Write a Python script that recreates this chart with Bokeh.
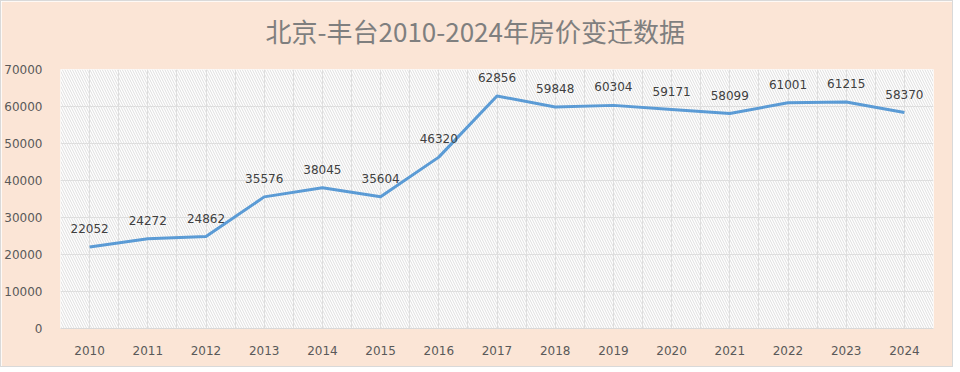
import numpy as np
from bokeh.plotting import figure
from bokeh.models import ColumnDataSource, FixedTicker, BoxAnnotation, LabelSet, Title, Range1d, BasicTickFormatter
from bokeh.core.properties import value
from bokeh.embed import file_html
from bokeh.resources import INLINE

years = [2010, 2011, 2012, 2013, 2014, 2015, 2016, 2017, 2018, 2019, 2020, 2021, 2022, 2023, 2024]
prices = [22052, 24272, 24862, 35576, 38045, 35604, 46320, 62856, 59848, 60304, 59171, 58099, 61001, 61215, 58370]
y_ticks = [0, 10000, 20000, 30000, 40000, 50000, 60000, 70000]
title_text = "北京-丰台2010-2024年房价变迁数据"

peach = "#FBE5D6"

p = figure(width=953, height=367, output_backend="svg", toolbar_location=None,
           x_range=Range1d(years[0] - 0.5, years[-1] + 0.5), y_range=Range1d(0, y_ticks[-1]),
           min_border_left=58, min_border_right=21, min_border_top=68, min_border_bottom=40)
p.title = None
p.border_fill_color = peach
p.background_fill_color = "white"
p.outline_line_color = None

hatch = BoxAnnotation(fill_color="white", fill_alpha=1.0, line_color=None,
                      hatch_pattern="\\", hatch_color="#d6d6d6", hatch_scale=5,
                      hatch_weight=0.8, level="image")
p.add_layout(hatch)

src = ColumnDataSource(dict(x=years, y=prices, label=[str(v) for v in prices]))
p.line("x", "y", source=src, line_color="#5B9BD5", line_width=3, line_join="round")
labels = LabelSet(x="x", y="y", text="label", source=src, y_offset=14, text_align="center",
                  text_baseline="bottom", text_font=value("DejaVu Sans"), text_font_size="12px",
                  text_color="#404040")
p.add_layout(labels)

# spacer between the frame and the title, then the title itself
spacer = Title(text=" ", text_font_size="1px", standoff=18)
p.add_layout(spacer, "above")
main_title = Title(text=title_text, align="left", offset=205, standoff=0,
                   text_font="Noto Sans CJK SC", text_font_size="26px",
                   text_color="#7f7f7f", text_font_style="normal")
p.add_layout(main_title, "above")

# axes
p.xaxis.ticker = FixedTicker(ticks=years)
p.yaxis.ticker = FixedTicker(ticks=y_ticks)
p.yaxis.formatter = BasicTickFormatter(use_scientific=False)
for ax in (p.xaxis[0], p.yaxis[0]):
    ax.major_tick_line_color = None
    ax.minor_tick_line_color = None
    ax.major_label_text_font = "DejaVu Sans"
    ax.major_label_text_font_size = "12px"
    ax.major_label_text_color = "#595959"
p.yaxis.axis_line_color = None
p.xaxis.axis_line_color = "#d9d9d9"
p.yaxis.major_label_standoff = 12
p.xaxis.major_label_standoff = 11

p.xgrid.ticker = FixedTicker(ticks=list(np.arange(years[0] - 0.5, years[-1] + 0.75, 0.5)))
p.xgrid.grid_line_color = "#dedede"
p.ygrid.grid_line_color = "#dedede"
p.xgrid.level = "underlay"
p.ygrid.level = "underlay"

p.styles = {"border": "1px solid #d9d9d9", "box-sizing": "border-box"}

open("out.html", "w").write(file_html(p, INLINE))
